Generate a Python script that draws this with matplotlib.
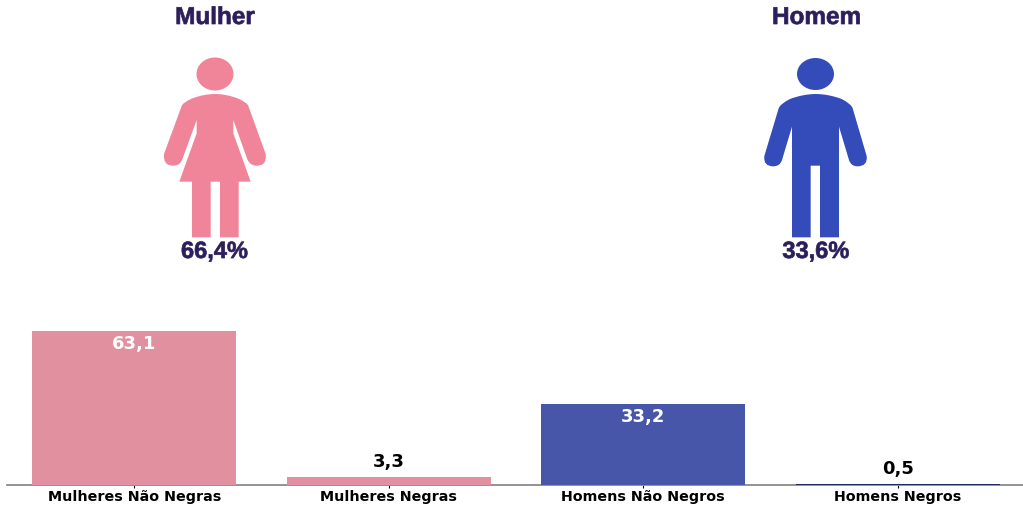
import matplotlib
matplotlib.use("Agg")
import matplotlib.pyplot as plt
import matplotlib.patheffects as pe
from matplotlib.patches import Ellipse, PathPatch
from matplotlib.path import Path

# chart values
categories = ["Mulheres Não Negras", "Mulheres Negras", "Homens Não Negros", "Homens Negros"]
values = [63.1, 3.3, 33.2, 0.5]
value_labels = ["63,1", "3,3", "33,2", "0,5"]
bar_colors = ["#E0909F", "#E0909F", "#4756A9", "#1F2A6B"]

icon_titles = ["Mulher", "Homem"]
icon_shares = ["66,4%", "33,6%"]

TEXT_DARK = "#2C1E5A"
PINK = "#F08498"
BLUE = "#344CBA"
W, H = 1023, 507

fig = plt.figure(figsize=(W / 100, H / 100), dpi=100)

# bar chart along the bottom
ax = fig.add_axes([7 / W, (H - 485) / H, 1018 / W, 185 / H])
bars = ax.bar(range(4), values, width=0.8, color=bar_colors, zorder=3)
ax.set_xlim(-0.5, 3.5)
ax.set_ylim(0, 185 / 2.44)
ax.set_xticks(range(4))
ax.set_xticklabels(categories, fontweight="bold", fontsize=10.3, color="black")
ax.set_yticks([])
ax.tick_params(axis="x", length=2, width=0.8, pad=1.5)
for side in ["top", "left", "right"]:
    ax.spines[side].set_visible(False)
ax.spines["bottom"].set_color("#808080")
ax.spines["bottom"].set_linewidth(1.2)
ax.spines["bottom"].set_zorder(2)
ax.patch.set_alpha(0)

for i, (v, lab) in enumerate(zip(values, value_labels)):
    # big bars get a white label inside, small ones a black label on top
    if v > 10:
        ax.annotate(lab, (i, v), xytext=(0, -3), textcoords="offset points", ha="center", va="top",
                    color="white", fontweight="bold", fontsize=13, zorder=4)
    else:
        ax.annotate(lab, (i, v), xytext=(0, 4), textcoords="offset points", ha="center", va="bottom",
                    color="black", fontweight="bold", fontsize=13, zorder=4)

# overlay in pixel coordinates for the pictograms
ov = fig.add_axes([0, 0, 1, 1])
ov.set_xlim(0, W)
ov.set_ylim(H, 0)
ov.axis("off")
ov.patch.set_alpha(0)


def shape(points, ox):
    """Turns (code, x, y) outline points, measured on a 3x crop, into a path."""
    verts = [(ox + x / 3, y / 3) for _, x, y in points] + [(0, 0)]
    codes = [c for c, _, _ in points] + [Path.CLOSEPOLY]
    return Path(verts, codes)


M, L, Q = Path.MOVETO, Path.LINETO, Path.CURVE3

woman = [
    (M, 125, 318), (Q, 128, 308), (Q, 155, 296), (Q, 190, 282), (Q, 225, 282),
    (Q, 260, 282), (Q, 295, 296), (Q, 322, 308), (Q, 325, 318), (L, 377, 462),
    (Q, 382, 497), (Q, 350, 497), (Q, 330, 497), (Q, 322, 478),
    (L, 280, 360), (L, 280, 400), (L, 332, 545), (L, 296, 545), (L, 296, 712),
    (L, 240, 712), (L, 240, 545), (L, 212, 545), (L, 212, 712), (L, 156, 712),
    (L, 156, 545), (L, 118, 545), (L, 170, 400), (L, 170, 360), (L, 127, 478),
    (Q, 120, 497), (Q, 100, 497), (Q, 68, 497), (Q, 72, 462),
]
man = [
    (M, 116, 325), (Q, 120, 312), (Q, 150, 297), (Q, 190, 282), (Q, 227, 282),
    (Q, 265, 282), (Q, 305, 297), (Q, 334, 312), (Q, 338, 325), (L, 380, 468),
    (Q, 384, 499), (Q, 352, 499), (Q, 333, 499), (Q, 327, 480),
    (L, 297, 380), (L, 297, 712), (L, 240, 712), (L, 240, 497), (L, 212, 497),
    (L, 212, 712), (L, 156, 712), (L, 156, 380), (L, 126, 480),
    (Q, 120, 499), (Q, 100, 499), (Q, 69, 499), (Q, 73, 468),
]

ov.add_patch(PathPatch(shape(woman, 140), facecolor=PINK, edgecolor="none"))
ov.add_patch(Ellipse((215, 74), 37, 33, facecolor=PINK, edgecolor="none"))
ov.add_patch(PathPatch(shape(man, 740), facecolor=BLUE, edgecolor="none"))
ov.add_patch(Ellipse((815.5, 74), 37, 32, facecolor=BLUE, edgecolor="none"))

# stroke only, so the filled outline is not drawn a second time with hinting
heavy = [pe.Stroke(linewidth=0.5, foreground=TEXT_DARK)]
for cx, title, share in zip([215, 816.5], icon_titles, icon_shares):
    ov.text(cx, 17.5, title, ha="center", va="center", color=TEXT_DARK, fontsize=17.5,
            fontweight="bold", family="Liberation Sans", path_effects=heavy)
    ov.text(cx - 0.5, 251.5, share, ha="center", va="center", color=TEXT_DARK, fontsize=17,
            fontweight="bold", family="Liberation Sans", path_effects=heavy)

fig.savefig("out.png", dpi=100)
